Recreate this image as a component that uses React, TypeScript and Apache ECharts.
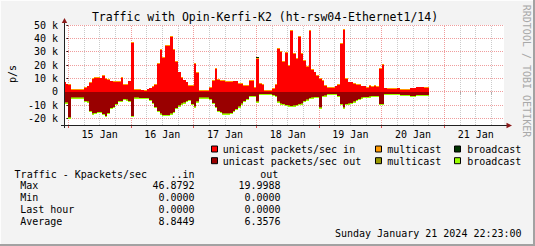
import React, { useEffect, useRef } from "react";
import * as echarts from "echarts";

// hours since 15 Jan 00:00; sample i covers [HOUR0 + i, HOUR0 + i + 1)
const HOUR0 = -2;
const END_HOUR = 138.2;
const X_MIN = -1.646;
const X_MAX = 166.82;

// values in k packets/sec
const unicastIn = [
  7.1, 5.6, 5.1, 1.6, 1.6, 1.6, 1.6, 1.6, 2.8, 4.1,
  6.6, 9.6, 10.3, 10.2, 10.1, 11.8, 9.6, 8.8, 7.8, 7.6,
  7.2, 7.2, 10.3, 5.1, 5.3, 7.8, 36.6, 1.3, 1.3, 1.3,
  1.1, 0.8, 1.8, 2.6, 3.8, 5.1, 20.6, 31.6, 25.6, 34.1,
  34.1, 41.1, 31.6, 22.1, 14.6, 10.6, 8.6, 7.1, 4.6, 4.6,
  20.6, 14.1, 0.8, 0.8, 0.8, 0.8, 2.8, 8.3, 17.1, 8.8,
  8.3, 8.3, 7.6, 7.6, 7.6, 7.8, 7.8, 5.8, 5.8, 4.6,
  4.6, 8.3, 8.3, 2.8, 24.6, 5.8, 5.1, 0.8, 0.8, 0.8,
  2.1, 5.1, 32.1, 30.1, 22.1, 29.1, 19.6, 45.6, 28.3, 24.6,
  41.1, 28.1, 23.1, 18.6, 45.6, 16.6, 14.6, 12.1, 9.6, 8.1,
  4.6, 3.1, 3.1, 3.1, 4.1, 5.1, 35.6, 46.4, 9.6, 7.1,
  7.1, 6.1, 5.1, 5.1, 4.1, 4.1, 3.1, 4.6, 3.6, 4.6,
  3.6, 17.1, 20.1, 2.6, 2.1, 2.1, 2.1, 2.1, 2.6, 1.6,
  1.6, 1.6, 1.6, 2.6, 2.6, 3.3, 3.3, 3.3, 3.1, 3.1,
];
const multicastIn = [
  0.5, 0.5, 0.5, 0.4, 0.4, 0.4, 0.4, 0.4, 0.5, 0.5,
  0.5, 0.5, 0.5, 0.5, 0.5, 0.5, 0.5, 0.5, 0.5, 0.5,
  0.5, 0.5, 0.5, 0.5, 0.5, 0.5, 0.6, 0.4, 0.4, 0.4,
  0.4, 0.4, 0.5, 0.5, 0.5, 0.6, 0.6, 0.6, 0.6, 0.6,
  0.6, 0.6, 0.7, 0.6, 0.5, 0.5, 0.5, 0.5, 0.5, 0.5,
  0.6, 0.5, 0.4, 0.4, 0.4, 0.4, 0.5, 0.5, 0.6, 0.5,
  0.5, 0.5, 0.5, 0.5, 0.5, 0.5, 0.5, 0.5, 0.5, 0.5,
  0.5, 0.5, 0.5, 0.4, 0.5, 0.5, 0.5, 0.4, 0.4, 0.4,
  0.5, 0.5, 0.6, 0.6, 0.6, 0.6, 0.5, 0.6, 0.6, 0.5,
  0.6, 0.6, 0.5, 0.5, 0.6, 0.5, 0.5, 0.5, 0.5, 0.5,
  0.5, 0.5, 0.5, 0.5, 0.5, 0.5, 0.6, 0.6, 0.5, 0.5,
  0.5, 0.5, 0.5, 0.5, 0.5, 0.5, 0.5, 0.5, 0.5, 0.5,
  0.5, 0.5, 0.6, 0.5, 0.5, 0.5, 0.5, 0.5, 0.5, 0.5,
  0.5, 0.5, 0.5, 0.5, 0.5, 0.5, 0.5, 0.5, 0.5, 0.5,
];
const broadcastIn = [
  0, 0, 0, 0, 0, 0, 0, 0, 0, 0,
  0, 0, 0, 0, 0, 0, 0, 0, 0, 0,
  0, 0, 0, 0, 0, 0, 0, 0, 0, 0,
  0, 0, 0, 0, 0, 0, 0, 0, 0, 0,
  0, 0, 0, 0, 0, 0, 0, 0, 0, 0,
  0, 0, 0, 0, 0, 0, 0, 0, 0, 0,
  0, 0, 0, 0, 0, 0, 0, 0, 0, 0,
  0, 0, 0, 0, 0.8, 0, 0, 0, 0, 0,
  0, 0, 0, 0, 0, 0, 0, 0, 0, 0,
  0, 0, 0, 0, 0, 0, 0, 0, 0, 0,
  0, 0, 0, 0, 0, 0, 0, 0, 0, 0,
  0, 0, 0, 0, 0, 0, 0, 0, 0, 0,
  0, 0, 0, 0, 0, 0, 0, 0, 0, 0,
  0, 0, 0, 0, 0, 0, 0, 0, 0, 0,
];
const unicastOut = [
  8.0, 8.0, 19.3, 4.3, 4.3, 4.3, 4.3, 4.3, 6.8, 7.3,
  14.3, 16.3, 16.0, 15.3, 15.3, 16.8, 18.0, 15.8, 12.3, 11.3,
  9.3, 6.8, 6.8, 5.5, 5.8, 6.8, 18.0, 4.3, 4.3, 4.8,
  4.8, 4.8, 4.8, 6.3, 8.3, 11.3, 14.3, 16.3, 17.3, 17.3,
  17.3, 16.3, 15.3, 12.3, 10.3, 8.8, 8.0, 6.8, 6.3, 9.3,
  11.0, 7.3, 4.3, 4.3, 4.3, 4.3, 5.5, 8.3, 11.3, 14.3,
  15.3, 16.3, 16.3, 16.3, 15.8, 14.3, 12.8, 11.0, 8.8, 6.8,
  5.3, 3.3, 3.0, 3.0, 7.3, 1.8, 1.5, 1.5, 1.5, 1.5,
  2.3, 3.0, 7.3, 8.8, 9.3, 9.8, 10.3, 10.5, 10.3, 9.8,
  9.3, 8.8, 6.8, 5.8, 4.8, 4.3, 3.8, 3.8, 11.8, 3.3,
  2.8, 1.8, 1.8, 1.8, 1.8, 3.3, 9.3, 11.8, 9.3, 8.8,
  8.3, 7.3, 6.3, 5.5, 4.3, 3.8, 3.8, 3.5, 3.3, 3.0,
  3.0, 9.3, 9.3, 1.8, 1.8, 1.8, 1.8, 1.8, 1.8, 2.3,
  2.3, 2.3, 2.3, 3.0, 3.0, 2.5, 2.5, 2.5, 2.5, 2.5,
];
const multicastOut = [
  0.2, 0.2, 0.2, 0.2, 0.2, 0.2, 0.2, 0.2, 0.2, 0.2,
  0.2, 0.2, 0.2, 0.2, 0.2, 0.2, 0.2, 0.2, 0.2, 0.2,
  0.2, 0.2, 0.2, 0.2, 0.2, 0.2, 0.2, 0.2, 0.2, 0.2,
  0.2, 0.2, 0.2, 0.2, 0.2, 0.2, 0.2, 0.2, 0.2, 0.2,
  0.2, 0.2, 0.2, 0.2, 0.2, 0.2, 0.2, 0.2, 0.2, 0.2,
  0.2, 0.2, 0.5, 0.5, 0.5, 0.5, 0.2, 0.2, 0.2, 0.2,
  0.2, 0.2, 0.2, 0.2, 0.2, 0.2, 0.2, 0.2, 0.2, 0.2,
  0.2, 0.2, 0.2, 0.2, 0.2, 0.2, 0.2, 0.2, 0.2, 0.2,
  0.2, 0.2, 0.2, 0.2, 0.2, 0.2, 0.2, 0.2, 0.2, 0.2,
  0.2, 0.2, 0.2, 0.2, 0.2, 0.2, 0.2, 0.2, 0.2, 0.2,
  0.2, 0.2, 0.2, 0.2, 0.2, 0.2, 0.2, 0.2, 0.2, 0.2,
  0.2, 0.2, 0.2, 0.2, 0.2, 0.2, 0.2, 0.2, 0.2, 0.2,
  0.2, 0.2, 0.2, 0.2, 0.2, 0.2, 0.2, 0.2, 0.2, 0.2,
  0.2, 0.2, 0.2, 0.2, 0.2, 0.2, 0.2, 0.2, 0.2, 0.2,
];
const broadcastOut = [
  0.7, 0.7, 0.7, 0.7, 0.7, 0.7, 0.7, 0.7, 0.7, 0.7,
  0.7, 0.7, 0.7, 0.7, 0.7, 0.7, 0.7, 0.7, 0.7, 0.7,
  0.7, 0.7, 0.7, 0.7, 0.7, 0.7, 0.7, 0.7, 0.7, 0.7,
  0.7, 0.7, 0.7, 0.7, 0.7, 0.7, 0.7, 0.7, 0.7, 0.7,
  0.7, 0.7, 0.7, 0.7, 0.7, 0.7, 0.7, 0.7, 0.7, 0.7,
  0.7, 0.7, 0.5, 0.5, 0.5, 0.5, 0.7, 0.7, 0.7, 0.7,
  0.7, 0.7, 0.7, 0.7, 0.7, 0.7, 0.7, 0.7, 0.7, 0.7,
  0.7, 0.7, 0.7, 0.7, 0.7, 0.7, 0.7, 0.7, 0.7, 0.7,
  0.7, 0.7, 0.7, 0.7, 0.7, 0.7, 0.7, 0.7, 0.7, 0.7,
  0.7, 0.7, 0.7, 0.7, 0.7, 0.7, 0.7, 0.7, 0.7, 0.7,
  0.7, 0.7, 0.7, 0.7, 0.7, 0.7, 0.7, 0.7, 0.7, 0.7,
  0.7, 0.7, 0.7, 0.7, 0.7, 0.7, 0.7, 0.7, 0.7, 0.7,
  0.7, 0.7, 0.7, 0.7, 0.7, 0.7, 0.7, 0.7, 0.7, 0.7,
  0.7, 0.7, 0.7, 0.7, 0.7, 0.7, 0.7, 0.7, 0.7, 0.7,
];

const yTicks = [-20000, -10000, 0, 10000, 20000, 30000, 40000, 50000];
const dayLabelHours = [12, 36, 60, 84, 108, 132, 156];
const dayNames = ["15 Jan", "16 Jan", "17 Jan", "18 Jan", "19 Jan", "20 Jan", "21 Jan"];

const TITLE = "Traffic with Opin-Kerfi-K2 (ht-rsw04-Ethernet1/14)";
const Y_NAME = "p/s";
const WATERMARK = "RRDTOOL / TOBI OETIKER";
const FOOTER = "Sunday January 21 2024 22:23:00";

const tableTitle = "Traffic - Kpackets/sec";
const tableHeadIn = "..in";
const tableHeadOut = "out";
const statLabels = ["Max", "Min", "Last hour", "Average"];
const statIn = ["46.8792", "0.0000", "0.0000", "8.8449"];
const statOut = ["19.9988", "0.0000", "0.0000", "6.3576"];

const C_UNI_IN = "#ff0000";
const C_UNI_OUT = "#990000";
const C_MC_IN = "#ff9900";
const C_MC_OUT = "#999900";
const C_BC_IN = "#003300";
const C_BC_OUT = "#99ff00";

const legendRows = [
  [
    { name: "unicast packets/sec in", color: C_UNI_IN },
    { name: "multicast", color: C_MC_IN },
    { name: "broadcast", color: C_BC_IN },
  ],
  [
    { name: "unicast packets/sec out", color: C_UNI_OUT },
    { name: "multicast", color: C_MC_OUT },
    { name: "broadcast", color: C_BC_OUT },
  ],
];

const FONT = '"DejaVu Sans Mono", monospace';

// stacked segments: item = [start hour, end hour, base, top] (packets/sec)
function segItems(vals: number[], below: number[][], sign: number) {
  return vals.map((v, i) => {
    const base = below.reduce((s, l) => s + l[i], 0);
    return [
      HOUR0 + i,
      i < vals.length - 1 ? HOUR0 + i + 1 : END_HOUR,
      sign * base * 1000,
      sign * (base + v) * 1000,
    ];
  });
}

function layerSeries(name: string, vals: number[], below: number[][], sign: number, color: string) {
  return {
    name,
    type: "custom",
    z: 10,
    silent: true,
    encode: { x: [0, 1], y: [2, 3] },
    data: segItems(vals, below, sign),
    renderItem: (params: any, api: any) => {
      const a = api.coord([api.value(0), api.value(2)]);
      const b = api.coord([api.value(1), api.value(3)]);
      const xl = Math.round(a[0]);
      const xr = Math.round(b[0]);
      const yt = Math.round(Math.min(a[1], b[1]));
      const yb = Math.round(Math.max(a[1], b[1]));
      if (xr <= xl || yb <= yt) return null;
      const shape = echarts.graphic.clipRectByRect(
        { x: xl, y: yt, width: xr - xl, height: yb - yt },
        params.coordSys
      );
      if (!shape) return null;
      return { type: "rect", shape, style: { fill: color } };
    },
  };
}

function txt(text: string, x: number, y: number, opts: any = {}) {
  return {
    type: "text",
    x,
    y,
    rotation: opts.rotation || 0,
    z: 100,
    style: {
      text,
      fill: opts.fill || "#000",
      fontFamily: FONT,
      fontSize: opts.size || 10,
      align: opts.align || "left",
      verticalAlign: "middle",
    },
  };
}

export default function App() {
  const ref = useRef<HTMLDivElement>(null);

  useEffect(() => {
    if (!ref.current) return;
    const chart = echarts.init(ref.current, null, { renderer: "svg" });

    const gridLines: any[] = [];
    const midnights: number[] = [];
    const sixHours: number[] = [];
    for (let h = 0; h <= X_MAX; h += 6) {
      const major = h % 24 === 0;
      if (major) midnights.push(h);
      else sixHours.push(h);
      gridLines.push({
        xAxis: h,
        lineStyle: {
          color: major ? "rgba(225,60,60,0.5)" : "rgba(140,140,140,0.45)",
          type: [1, 1],
          width: 1,
        },
      });
    }
    yTicks.forEach((v) =>
      gridLines.push({
        yAxis: v,
        lineStyle: { color: "rgba(225,60,60,0.5)", type: [1, 1], width: 1 },
      })
    );

    const graphic: any[] = [];
    // frame
    graphic.push({ type: "line", z: 100, shape: { x1: 0, y1: 0.5, x2: 535, y2: 0.5 }, style: { stroke: "#fdfdfd", lineWidth: 1 } });
    graphic.push({ type: "line", z: 100, shape: { x1: 0.5, y1: 0, x2: 0.5, y2: 246 }, style: { stroke: "#fdfdfd", lineWidth: 1 } });
    graphic.push({ type: "rect", z: 100, shape: { x: 0, y: 244, width: 535, height: 2 }, style: { fill: "#a2a2a2" } });
    graphic.push({ type: "rect", z: 100, shape: { x: 533, y: 0, width: 2, height: 246 }, style: { fill: "#a2a2a2" } });
    // title and side texts
    graphic.push(txt(TITLE, 265, 17, { size: 11.5, align: "center" }));
    graphic.push(txt(Y_NAME, 12, 74, { align: "center", rotation: Math.PI / 2 }));
    graphic.push(txt(WATERMARK, 526, 71, { align: "center", rotation: -Math.PI / 2, fill: "#a8a8a8" }));
    // axes lines and arrows
    graphic.push({ type: "line", z: 100, shape: { x1: 64.5, y1: 128, x2: 64.5, y2: 22 }, style: { stroke: "#202020", lineWidth: 1 } });
    graphic.push({ type: "line", z: 100, shape: { x1: 61, y1: 125.5, x2: 507, y2: 125.5 }, style: { stroke: "#202020", lineWidth: 1 } });
    graphic.push({ type: "polygon", z: 101, shape: { points: [[61.8, 23], [64.5, 18], [67.2, 23]] }, style: { fill: "#8b1a1a" } });
    graphic.push({ type: "polygon", z: 101, shape: { points: [[506.5, 122.8], [512, 125.5], [506.5, 128.2]] }, style: { fill: "#8b1a1a" } });
    // legend
    const boxX = [211.5, 375.5, 454.5];
    const textX = [222.7, 387.2, 467.2];
    const rowY = [149.5, 161.2];
    legendRows.forEach((row, r) => {
      row.forEach((item, c) => {
        graphic.push({
          type: "rect",
          z: 100,
          shape: { x: boxX[c], y: rowY[r] - 3.5, width: 6, height: 6 },
          style: { fill: item.color, stroke: "#000", lineWidth: 1 },
        });
        graphic.push(txt(item.name, textX[c], rowY[r]));
      });
    });
    // table
    graphic.push(txt(tableTitle, 14.6, 174));
    graphic.push(txt(tableHeadIn, 194.6, 174, { align: "right" }));
    graphic.push(txt(tableHeadOut, 278.3, 174, { align: "right" }));
    statLabels.forEach((lab, i) => {
      const y = 185.7 + i * 11.8;
      graphic.push(txt(lab, 20.2, y));
      graphic.push(txt(statIn[i], 194.6, y, { align: "right" }));
      graphic.push(txt(statOut[i], 280.6, y, { align: "right" }));
    });
    graphic.push(txt(FOOTER, 521.6, 233.7, { align: "right" }));

    const option: any = {
      animation: false,
      backgroundColor: "#f3f3f3",
      grid: {
        left: 64,
        top: 25,
        width: 440,
        height: 100,
        show: true,
        backgroundColor: "#ffffff",
        borderWidth: 0,
        containLabel: false,
      },
      xAxis: [
        {
          type: "value",
          min: X_MIN,
          max: X_MAX,
          axisLine: { show: false },
          splitLine: { show: false },
          axisTick: {
            show: true,
            customValues: sixHours,
            length: 3,
            lineStyle: { color: "rgba(150,150,150,0.7)" },
          },
          axisLabel: {
            customValues: dayLabelHours,
            formatter: (v: number) => dayNames[dayLabelHours.indexOf(Math.round(v))] || "",
            fontFamily: FONT,
            fontSize: 10,
            color: "#000",
            margin: 4,
          },
        },
        {
          type: "value",
          min: X_MIN,
          max: X_MAX,
          position: "bottom",
          axisLine: { show: false },
          splitLine: { show: false },
          axisLabel: { show: false },
          axisTick: {
            show: true,
            customValues: midnights,
            length: 3,
            lineStyle: { color: "rgba(210,40,40,0.8)" },
          },
        },
      ],
      yAxis: {
        type: "value",
        min: -25000,
        max: 50000,
        axisLine: { show: false },
        splitLine: { show: false },
        axisTick: {
          show: true,
          customValues: yTicks,
          length: 2,
          lineStyle: { color: "#202020" },
        },
        axisLabel: {
          customValues: yTicks,
          formatter: (v: number) => (v === 0 ? "0" : `${v / 1000} k`),
          fontFamily: FONT,
          fontSize: 10,
          color: "#000",
          margin: 6,
        },
      },
      series: [
        {
          type: "line",
          name: "grid",
          data: [[0, 0]],
          symbol: "none",
          lineStyle: { opacity: 0 },
          silent: true,
          z: 1,
          markLine: {
            z: 1,
            silent: true,
            symbol: ["none", "none"],
            label: { show: false },
            animation: false,
            data: gridLines,
          },
        },
        layerSeries("unicast packets/sec in", unicastIn, [], 1, C_UNI_IN),
        layerSeries("multicast in", multicastIn, [unicastIn], 1, C_MC_IN),
        layerSeries("broadcast in", broadcastIn, [unicastIn, multicastIn], 1, C_BC_IN),
        layerSeries("unicast packets/sec out", unicastOut, [], -1, C_UNI_OUT),
        layerSeries("multicast out", multicastOut, [unicastOut], -1, C_MC_OUT),
        layerSeries("broadcast out", broadcastOut, [unicastOut, multicastOut], -1, C_BC_OUT),
      ],
      graphic,
    };
    chart.setOption(option);
    return () => chart.dispose();
  }, []);

  return (
    <div
      ref={ref}
      style={{ position: "absolute", left: 0, top: 0, width: 535, height: 246 }}
    />
  );
}
